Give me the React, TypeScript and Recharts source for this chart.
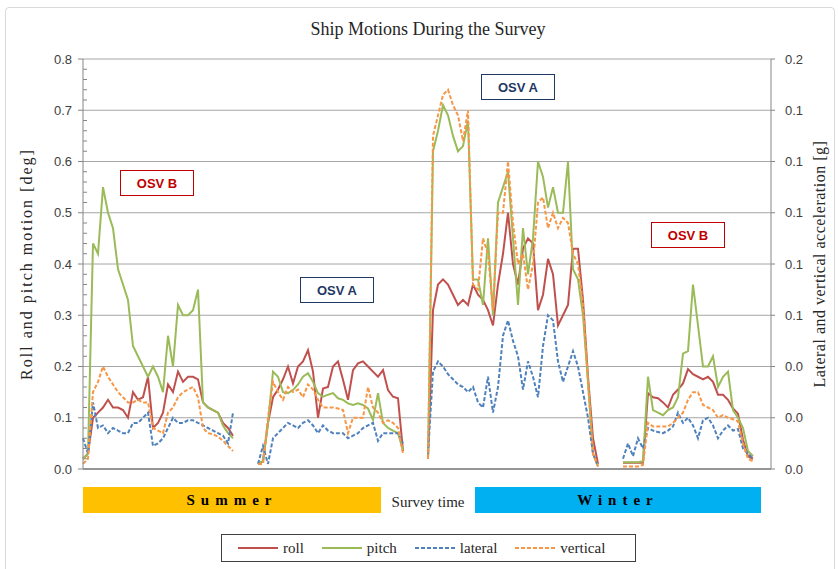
import React from 'react';
import { LineChart, Line, XAxis, YAxis, CartesianGrid, Legend, ReferenceLine } from 'recharts';

// survey sample index where each ship/season block starts
const SEGMENT_START = [0, 35, 69, 108];
const SAMPLE_COUNT = 135;

// roll / pitch in deg (left axis)
const rollSummerB = [0.02, 0.03, 0.1, 0.11, 0.12, 0.135, 0.12, 0.12, 0.115, 0.1, 0.15, 0.135, 0.14, 0.18, 0.08, 0.09, 0.11, 0.165, 0.15, 0.19, 0.17, 0.18, 0.18, 0.175, 0.13, 0.12, 0.115, 0.11, 0.09, 0.08, 0.065];
const pitchSummerB = [0.02, 0.03, 0.44, 0.42, 0.55, 0.5, 0.47, 0.39, 0.36, 0.33, 0.24, 0.22, 0.2, 0.18, 0.2, 0.18, 0.15, 0.26, 0.2, 0.32, 0.3, 0.3, 0.31, 0.35, 0.13, 0.12, 0.115, 0.11, 0.085, 0.07, 0.06];
const rollSummerA = [0.01, 0.015, 0.09, 0.14, 0.155, 0.175, 0.2, 0.167, 0.2, 0.21, 0.232, 0.19, 0.1, 0.157, 0.16, 0.2, 0.21, 0.174, 0.135, 0.193, 0.206, 0.21, 0.2, 0.19, 0.18, 0.193, 0.154, 0.141, 0.138, 0.035];
const pitchSummerA = [0.012, 0.015, 0.09, 0.19, 0.18, 0.15, 0.148, 0.154, 0.165, 0.18, 0.187, 0.17, 0.148, 0.141, 0.145, 0.148, 0.138, 0.135, 0.128, 0.125, 0.128, 0.125, 0.118, 0.096, 0.148, 0.09, 0.08, 0.075, 0.07, 0.037];
const rollWinterA = [0.02, 0.31, 0.36, 0.37, 0.36, 0.34, 0.32, 0.33, 0.32, 0.36, 0.34, 0.33, 0.31, 0.28, 0.36, 0.42, 0.5, 0.4, 0.36, 0.43, 0.45, 0.44, 0.31, 0.34, 0.41, 0.38, 0.28, 0.3, 0.32, 0.43, 0.43, 0.33, 0.18, 0.06, 0.01];
const pitchWinterA = [0.02, 0.62, 0.66, 0.71, 0.69, 0.65, 0.62, 0.63, 0.68, 0.37, 0.37, 0.32, 0.45, 0.3, 0.52, 0.55, 0.58, 0.45, 0.32, 0.47, 0.38, 0.45, 0.6, 0.57, 0.51, 0.55, 0.5, 0.5, 0.6, 0.39, 0.37, 0.3, 0.17, 0.03, 0.005];
const rollWinterB = [0.012, 0.012, 0.012, 0.012, 0.012, 0.148, 0.14, 0.138, 0.13, 0.12, 0.145, 0.155, 0.167, 0.195, 0.185, 0.18, 0.175, 0.18, 0.17, 0.145, 0.145, 0.135, 0.118, 0.108, 0.057, 0.025, 0.02];
const pitchWinterB = [0.013, 0.013, 0.013, 0.013, 0.015, 0.18, 0.115, 0.11, 0.105, 0.115, 0.12, 0.14, 0.225, 0.23, 0.36, 0.28, 0.2, 0.2, 0.22, 0.16, 0.18, 0.19, 0.115, 0.1, 0.08, 0.035, 0.025];

// lateral / vertical acceleration in g (right axis)
const lateralSummerB = [0.012, 0.006, 0.026, 0.016, 0.017, 0.014, 0.016, 0.015, 0.014, 0.014, 0.018, 0.018, 0.02, 0.022, 0.009, 0.01, 0.012, 0.016, 0.02, 0.018, 0.018, 0.019, 0.019, 0.018, 0.017, 0.016, 0.015, 0.014, 0.013, 0.01, 0.022];
const verticalSummerB = [0.002, 0.004, 0.03, 0.034, 0.04, 0.036, 0.033, 0.03, 0.028, 0.026, 0.026, 0.027, 0.026, 0.026, 0.016, 0.015, 0.014, 0.022, 0.024, 0.028, 0.03, 0.031, 0.032, 0.028, 0.016, 0.014, 0.0136, 0.0126, 0.011, 0.009, 0.007];
const lateralSummerA = [0.002, 0.009, 0.002, 0.012, 0.014, 0.016, 0.018, 0.017, 0.016, 0.018, 0.019, 0.017, 0.014, 0.017, 0.015, 0.014, 0.014, 0.014, 0.012, 0.013, 0.014, 0.016, 0.017, 0.018, 0.011, 0.014, 0.014, 0.014, 0.014, 0.01];
const verticalSummerA = [0.002, 0.002, 0.02, 0.034, 0.03, 0.027, 0.032, 0.03, 0.031, 0.028, 0.033, 0.031, 0.027, 0.024, 0.024, 0.024, 0.0236, 0.023, 0.014, 0.02, 0.02, 0.02, 0.032, 0.024, 0.022, 0.018, 0.019, 0.018, 0.016, 0.006];
const lateralWinterA = [0.006, 0.038, 0.042, 0.04, 0.037, 0.035, 0.033, 0.032, 0.03, 0.032, 0.026, 0.024, 0.036, 0.022, 0.032, 0.052, 0.058, 0.05, 0.044, 0.031, 0.042, 0.036, 0.028, 0.048, 0.06, 0.058, 0.042, 0.034, 0.04, 0.046, 0.04, 0.03, 0.02, 0.006, 0.001];
const verticalWinterA = [0.004, 0.13, 0.138, 0.146, 0.148, 0.142, 0.138, 0.128, 0.14, 0.072, 0.07, 0.09, 0.084, 0.062, 0.1, 0.1, 0.12, 0.096, 0.08, 0.084, 0.07, 0.08, 0.104, 0.106, 0.094, 0.1, 0.094, 0.098, 0.096, 0.084, 0.08, 0.064, 0.034, 0.006, 0.001];
const lateralWinterB = [0.004, 0.01, 0.005, 0.012, 0.008, 0.016, 0.015, 0.0144, 0.014, 0.015, 0.0166, 0.022, 0.018, 0.02, 0.017, 0.012, 0.019, 0.02, 0.017, 0.012, 0.015, 0.017, 0.015, 0.0156, 0.008, 0.006, 0.004];
const verticalWinterB = [0.001, 0.001, 0.001, 0.001, 0.0016, 0.018, 0.0166, 0.0166, 0.0166, 0.0166, 0.018, 0.02, 0.022, 0.027, 0.03, 0.03, 0.025, 0.024, 0.023, 0.02, 0.021, 0.02, 0.0194, 0.0186, 0.01, 0.004, 0.003];

const leftTicks = [0, 0.1, 0.2, 0.3, 0.4, 0.5, 0.6, 0.7, 0.8];
const leftMinorTicks = [0.02, 0.04, 0.06, 0.08, 0.12, 0.14, 0.16, 0.18, 0.22, 0.24, 0.26, 0.28, 0.32, 0.34, 0.36, 0.38, 0.42, 0.44, 0.46, 0.48, 0.52, 0.54, 0.56, 0.58, 0.62, 0.64, 0.66, 0.68, 0.72, 0.74, 0.76, 0.78];
const rightTicks = [0, 0.02, 0.04, 0.06, 0.08, 0.1, 0.12, 0.14, 0.16];

const segments = [
  { roll: rollSummerB, pitch: pitchSummerB, lateral: lateralSummerB, vertical: verticalSummerB },
  { roll: rollSummerA, pitch: pitchSummerA, lateral: lateralSummerA, vertical: verticalSummerA },
  { roll: rollWinterA, pitch: pitchWinterA, lateral: lateralWinterA, vertical: verticalWinterA },
  { roll: rollWinterB, pitch: pitchWinterB, lateral: lateralWinterB, vertical: verticalWinterB },
];

const data: any[] = Array.from({ length: SAMPLE_COUNT }, (_, t) => ({ t, roll: null, pitch: null, lateral: null, vertical: null }));
segments.forEach((seg, s) => {
  (['roll', 'pitch', 'lateral', 'vertical'] as const).forEach((key) => {
    seg[key].forEach((v, k) => {
      data[SEGMENT_START[s] + k][key] = v;
    });
  });
});

const SERIF = '"Liberation Serif", serif';
const SANS = '"Liberation Sans", Arial, sans-serif';

const series = [
  { key: 'roll', color: '#C0504D', dash: undefined, axis: 'left' },
  { key: 'pitch', color: '#9BBB59', dash: undefined, axis: 'left' },
  { key: 'lateral', color: '#4F81BD', dash: '4 2', axis: 'right' },
  { key: 'vertical', color: '#F79646', dash: '4 2', axis: 'right' },
];

const LegendBox = () => (
  <div style={{ width: 415, height: 28, border: '1px solid #404040', display: 'flex', alignItems: 'center', paddingLeft: 16, boxSizing: 'border-box', fontFamily: SERIF, fontSize: 15, color: '#262626' }}>
    {series.map((s) => (
      <div key={s.key} style={{ display: 'flex', alignItems: 'center', marginRight: 18 }}>
        <svg width={40} height={6}>
          <line x1={0} y1={3} x2={40} y2={3} stroke={s.color} strokeWidth={2} strokeDasharray={s.dash} />
        </svg>
        <span style={{ marginLeft: 5 }}>{s.key}</span>
      </div>
    ))}
  </div>
);

const OsvBox = ({ left, top, label, color }: { left: number; top: number; label: string; color: string }) => (
  <div style={{ position: 'absolute', left, top, width: 74, height: 26, boxSizing: 'border-box', border: `1.5px solid ${color}`, background: '#fff', color, fontFamily: SANS, fontWeight: 'bold', fontSize: 13, display: 'flex', alignItems: 'center', justifyContent: 'center' }}>
    {label}
  </div>
);

export default function App() {
  return (
    <div style={{ position: 'absolute', left: 0, top: 0, width: 838, height: 569, background: '#fff', overflow: 'hidden' }}>
      <div style={{ position: 'absolute', left: 5, top: 7, width: 828, height: 580, border: '1px solid #D9D9D9', borderRadius: 4 }} />
      <div style={{ position: 'absolute', left: 0, top: 19, width: 856, textAlign: 'center', fontFamily: SERIF, fontSize: 18, color: '#262626' }}>
        Ship Motions During the Survey
      </div>
      <div style={{ position: 'absolute', left: 0, top: 0 }}>
        <LineChart width={838} height={569} data={data} margin={{ top: 59, right: 0, bottom: 100, left: 0 }}>
          <CartesianGrid yAxisId="left" vertical={false} stroke="#A6A6A6" strokeWidth={1} />
          <XAxis dataKey="t" type="number" domain={[0, 137.6]} hide height={0} />
          <YAxis
            yAxisId="left"
            width={83}
            domain={[0, 0.8]}
            ticks={leftTicks}
            interval={0}
            tickFormatter={(v: number) => v.toFixed(1)}
            tick={{ fontSize: 13, fill: '#404040', fontFamily: SANS }}
            tickSize={5}
            tickMargin={6}
            stroke="#868686"
            label={{ value: 'Roll and pitch motion [deg]', angle: -90, position: 'insideLeft', offset: 26, style: { fontFamily: SERIF, fontSize: 16, letterSpacing: 2, fill: '#262626', textAnchor: 'middle' } }}
          />
          <YAxis
            yAxisId="right"
            orientation="right"
            width={67}
            domain={[0, 0.16]}
            allowDataOverflow
            ticks={rightTicks}
            interval={0}
            tickFormatter={(v: number) => v.toFixed(1)}
            tick={{ fontSize: 13, fill: '#404040', fontFamily: SANS }}
            tickSize={4}
            tickMargin={10}
            stroke="#868686"
            label={{ value: 'Lateral and vertical acceleration [g]', angle: -90, position: 'insideRight', offset: 19, style: { fontFamily: SERIF, fontSize: 16, letterSpacing: 0.5, fill: '#262626', textAnchor: 'middle' } }}
          />
          {leftMinorTicks.map((v) => (
            <ReferenceLine key={v} yAxisId="left" segment={[{ x: 0, y: v }, { x: 0.8, y: v }]} stroke="#868686" strokeWidth={1} />
          ))}
          <ReferenceLine yAxisId="left" y={0} stroke="#808080" strokeWidth={1.5} />
          {series.map((s) => (
            <Line
              key={s.key}
              yAxisId={s.axis}
              dataKey={s.key}
              type="linear"
              stroke={s.color}
              strokeWidth={2}
              strokeDasharray={s.dash}
              dot={false}
              connectNulls={false}
              isAnimationActive={false}
            />
          ))}
          <Legend
            layout="horizontal"
            verticalAlign="middle"
            align="center"
            wrapperStyle={{ top: 534, left: 221, width: 415 }}
            content={() => <LegendBox />}
          />
        </LineChart>
      </div>
      <OsvBox left={120} top={170} label="OSV B" color="#C00000" />
      <OsvBox left={300} top={277} label="OSV A" color="#1F3864" />
      <OsvBox left={481} top={74} label="OSV A" color="#1F3864" />
      <OsvBox left={651} top={222} label="OSV B" color="#C00000" />
      <div style={{ position: 'absolute', left: 83, top: 487, width: 298, height: 26, background: '#FFC000', display: 'flex', alignItems: 'center', justifyContent: 'center', fontFamily: SERIF, fontWeight: 'bold', fontSize: 15, letterSpacing: 6, color: '#000' }}>
        Summer
      </div>
      <div style={{ position: 'absolute', left: 381, top: 494, width: 94, textAlign: 'center', fontFamily: SERIF, fontSize: 15, color: '#262626' }}>
        Survey time
      </div>
      <div style={{ position: 'absolute', left: 475, top: 487, width: 286, height: 26, background: '#00B0F0', display: 'flex', alignItems: 'center', justifyContent: 'center', fontFamily: SERIF, fontWeight: 'bold', fontSize: 15, letterSpacing: 6, color: '#000' }}>
        Winter
      </div>
    </div>
  );
}
